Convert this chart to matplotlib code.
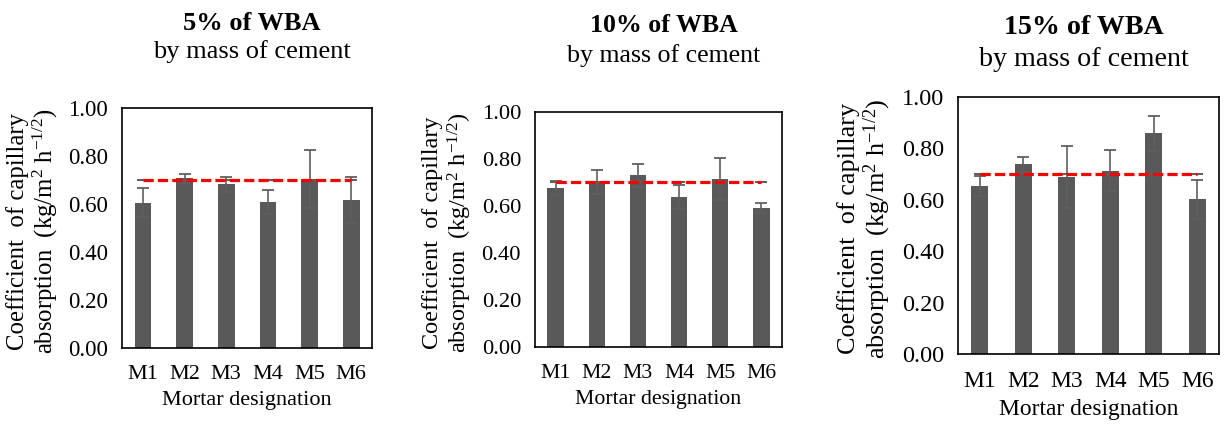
import matplotlib
matplotlib.use("Agg")
import matplotlib.pyplot as plt
import numpy as np

plt.rcParams["font.family"] = ["Liberation Serif", "DejaVu Serif"]
plt.rcParams["mathtext.fontset"] = "custom"
plt.rcParams["mathtext.rm"] = "Liberation Serif"

# data
mortars = ["M1", "M2", "M3", "M4", "M5", "M6"]
titles = ["5% of WBA", "10% of WBA", "15% of WBA"]
wba5 = [0.605, 0.707, 0.682, 0.610, 0.703, 0.617]
wba5_err = [0.060, 0.020, 0.030, 0.050, 0.120, 0.095]
wba10 = [0.678, 0.703, 0.730, 0.638, 0.716, 0.591]
wba10_err = [0.030, 0.050, 0.050, 0.050, 0.090, 0.020]
wba15 = [0.654, 0.738, 0.688, 0.714, 0.858, 0.602]
wba15_err = [0.040, 0.030, 0.120, 0.080, 0.070, 0.075]
reference = [0.70] * 6

W, H = 1224, 425
fig = plt.figure(figsize=(W / 100, H / 100), dpi=100)

# pixel boxes: left, top, right, bottom ; label x centre ; title ys ; font scale
panels = [
    (wba5, wba5_err, (122, 108, 372, 348), 33, (23, 52), 252, 1.0),
    (wba10, wba10_err, (535, 112, 782, 347), 448, (26, 56), 664, 0.98),
    (wba15, wba15_err, (958, 97, 1219, 354), 865, (28, 60), 1084, 1.06),
]

ylabel = ("Coefficient  of capillary\n"
          r"absorption  (kg/m$\mathregular{^2}$ h$\mathregular{^{-1/2}}$)")

for (vals, errs, box, lx, tys, tx, s), title in zip(panels, titles):
    l, t, r, b = box
    ax = fig.add_axes([l / W, (H - b) / H, (r - l) / W, (b - t) / H])
    x = np.arange(len(mortars))
    ax.bar(x, vals, width=0.4, color="#595959", zorder=2)
    ax.errorbar(x, vals, yerr=errs, fmt="none", ecolor="#5f5f5f",
                elinewidth=1.2, capsize=4.5, capthick=1.3, zorder=3)
    ax.errorbar(x, reference, yerr=0, fmt="none", ecolor="#5f5f5f",
                elinewidth=1.2, capsize=4.5, capthick=1.3, zorder=3)
    ax.plot(x, reference, color="#ff0000", lw=2.3, ls=(0, (3.2, 1.3)), zorder=4)
    ax.set_xlim(-0.5, 5.5)
    ax.set_ylim(0, 1.0)
    ax.set_yticks(np.arange(0, 1.01, 0.2))
    ax.set_yticklabels([f"{v:.2f}" for v in np.arange(0, 1.01, 0.2)])
    ax.set_xticks(x)
    ax.set_xticklabels(mortars)
    ax.tick_params(axis="y", length=0, pad=10, labelsize=16.5 * s)
    ax.tick_params(axis="x", length=0, pad=12, labelsize=16 * s)
    for sp in ax.spines.values():
        sp.set_linewidth(1.2)
        sp.set_color("black")
    ax.set_xlabel("Mortar designation", fontsize=16 * s, labelpad=5)

    fig.text(lx / W, 1 - ((t + b) / 2 + 3) / H, ylabel, rotation=90,
             ha="center", va="center", multialignment="center",
             fontsize=17.8 * s, linespacing=1.1)
    fig.text(tx / W, 1 - tys[0] / H, title, ha="center", va="center",
             fontsize=19 * s, fontweight="bold")
    fig.text(tx / W, 1 - tys[1] / H, "by mass of cement", ha="center",
             va="center", fontsize=19 * s)

fig.savefig("out.png", dpi=100)
